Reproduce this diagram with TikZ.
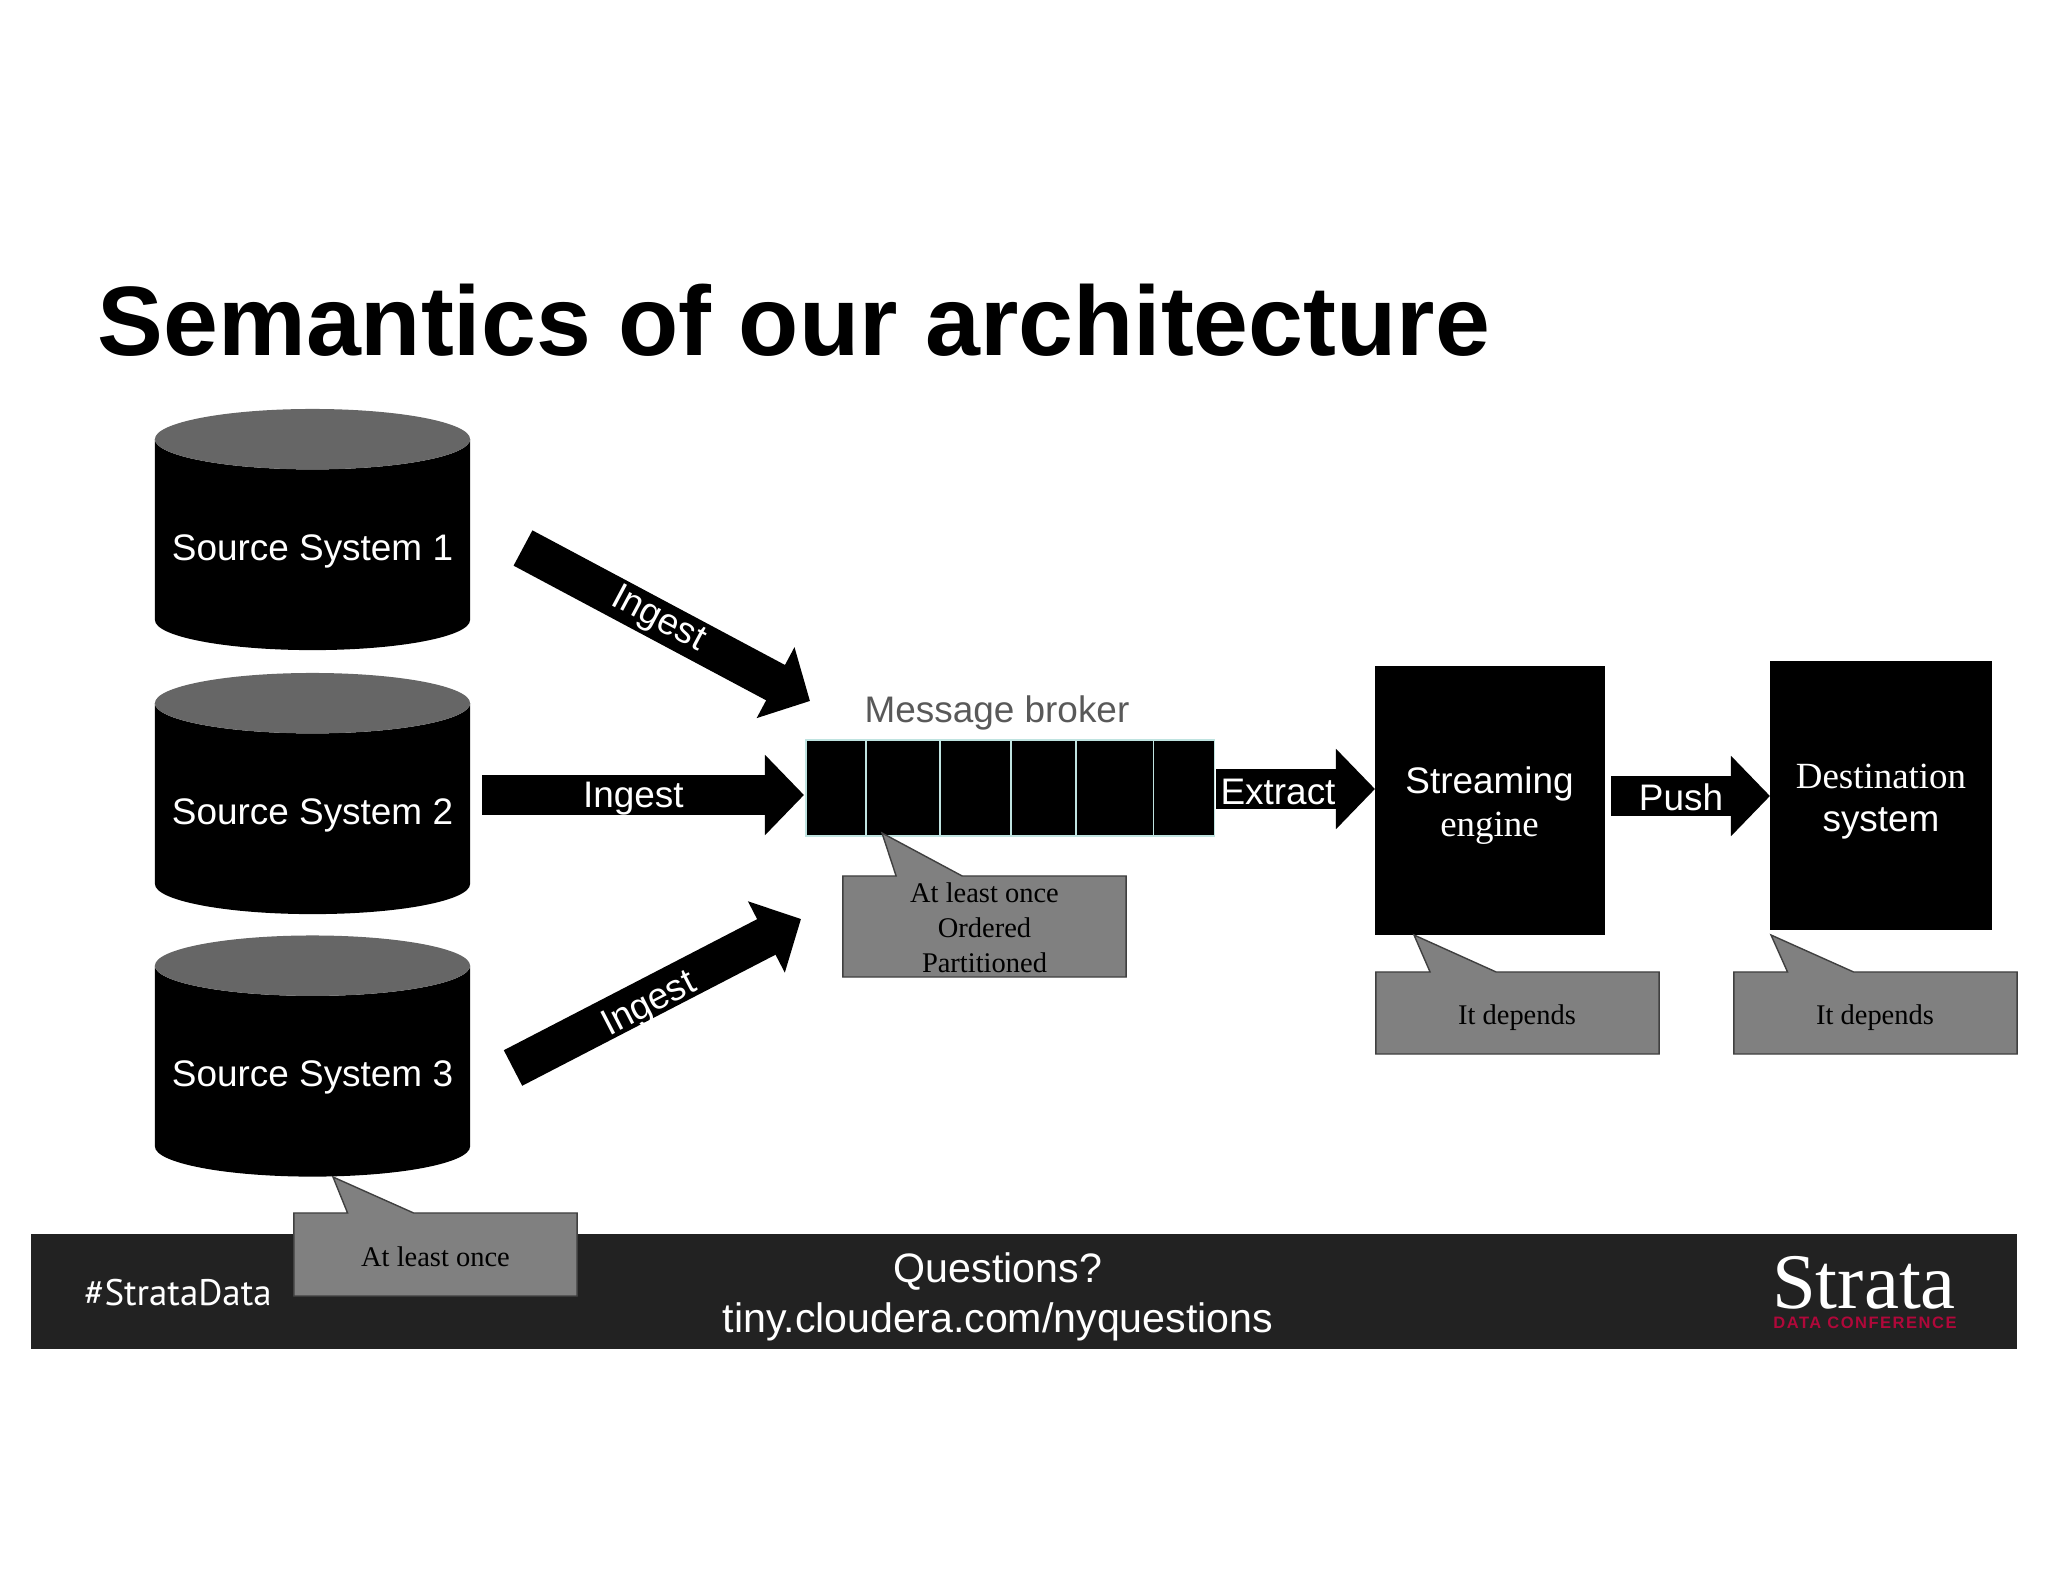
\documentclass[tikz,border=0pt]{standalone}
\usepackage{fontspec}
\setmainfont{Liberation Serif}
\setsansfont{Liberation Sans}
\newfontfamily\hashfont{PT Sans}
\newfontfamily\logofont{Liberation Sans}[LetterSpace=9]
\usetikzlibrary{positioning, arrows.meta, shapes.geometric, shapes.callouts}
\definecolor{footergray}{HTML}{222222}
\definecolor{capgray}{HTML}{666666}
\definecolor{notegray}{HTML}{808080}
\definecolor{cellline}{HTML}{BFE3E0}
\definecolor{logored}{HTML}{B0083A}
\tikzset{
    label text/.style={font=\fontsize{10.5pt}{12.6pt}\sffamily, text=white, inner sep=0pt},
    source/.style={cylinder, shape border rotate=90, aspect=.215, cylinder uses custom fill, cylinder body fill=black, cylinder end fill=capgray, minimum height=2.41cm, minimum width=3.15cm, inner sep=0pt, outer sep=0pt, label text},
    blockarrow/.style={line width=.40cm, -{Triangle[length=.39cm, width=.78cm]}},
    cell/.style={draw=cellline, fill=black, line width=.4pt, minimum height=.96cm, inner sep=0pt, outer sep=0pt},
    engine/.style={fill=black, inner sep=0pt, outer sep=0pt, align=center, text=white},
    note/.style={rectangle callout, draw=black!75, fill=notegray, line width=.4pt, minimum width=2.83cm, inner sep=0pt, outer sep=0pt, callout pointer width=.66cm},
    note text/.style={inner sep=0pt, align=center, font=\fontsize{8.1pt}{10pt}\selectfont},
}
\begin{document}
\begin{tikzpicture}[x=.01cm, y=-.01cm]
    \useasboundingbox (0, 0) rectangle (2048, 1582);
    \node (title) [anchor=base west, inner sep=0pt, font=\fontsize{28.05pt}{34pt}\sffamily\bfseries] at (97, 355.5) {Semantics of our architecture};

    % footer
    \fill [footergray] (31, 1234) rectangle (2017, 1349);
    \node (hashtag) [text=white, inner sep=0pt, font=\fontsize{10.5pt}{12pt}\hashfont] at (178, 1293) {\#StrataData};
    \node (questions) [text=white, align=center, inner sep=0pt, font=\fontsize{11.7pt}{14.2pt}\sffamily] at (998, 1297) {Questions?\\tiny.cloudera.com/nyquestions};
    \node (strata) [text=white, inner sep=0pt, font=\fontsize{22.4pt}{24pt}\selectfont] at (1864, 1283) {Strata};
    \node (conference) [text=logored, inner sep=0pt, font=\fontsize{4.7pt}{5pt}\logofont\bfseries] at (1865, 1323) {DATA CONFERENCE};

    \node (source1) [source] at (312.5, 545) {\raisebox{-.15cm}[0pt][0pt]{Source System 1}};
    \node (source2) [source] at (312.5, 809) {\raisebox{-.15cm}[0pt][0pt]{Source System 2}};
    \node (source3) [source] at (312.5, 1071.5) {\raisebox{-.15cm}[0pt][0pt]{Source System 3}};

    % broker
    \node (cell1) [cell, minimum width=.60cm, anchor=north west] at (806, 740) {};
    \node (cell2) [cell, minimum width=.74cm, right=0pt of cell1] {};
    \node (cell3) [cell, minimum width=.71cm, right=0pt of cell2] {};
    \node (cell4) [cell, minimum width=.65cm, right=0pt of cell3] {};
    \node (cell5) [cell, minimum width=.77cm, right=0pt of cell4] {};
    \node (cell6) [cell, minimum width=.61cm, right=0pt of cell5] {};
    \node (broker) [inner sep=0pt, text=black!65, font=\fontsize{10.5pt}{12.6pt}\sffamily] at (997, 713) {Message broker};

    \node (stream) [engine, minimum width=2.29cm, minimum height=2.69cm] at (1490, 800.5) {};
    \node (streamtext) [engine, fill=none, font=\fontsize{10.5pt}{12.2pt}\selectfont] at (1489.5, 806) {{\sffamily Streaming}\\engine};
    \node (dest) [engine, minimum width=2.22cm, minimum height=2.69cm] at (1881, 795.5) {};
    \node (desttext) [engine, fill=none, font=\fontsize{10.5pt}{12.2pt}\selectfont] at (1881, 802) {Destination\\{\sffamily system}};

    % block arrows
    \coordinate (in1a) at (523, 548);
    \coordinate (in1b) at (810, 701);
    \coordinate (in2a) at (482, 795);
    \coordinate (in2b) at (804, 795);
    \coordinate (in3a) at (513, 1068);
    \coordinate (in3b) at (801, 919);
    \coordinate (exa) at (1216, 789);
    \coordinate (exb) at (1375, 789);
    \coordinate (pua) at (1611, 796);
    \coordinate (pub) at (1770, 796);

    \draw [blockarrow] (in1a) -- node [label text, sloped, pos=.47] {Ingest} (in1b);
    \draw [blockarrow] (in2a) -- node [label text, pos=.47, yshift=-.04cm] {Ingest} (in2b);
    \draw [blockarrow] (in3a) -- node [label text, sloped, pos=.46, xshift=.01cm, yshift=-.07cm] {Ingest} (in3b);
    \draw [blockarrow] (exa) -- node [label text, pos=.39, yshift=-.03cm] {Extract} (exb);
    \draw [blockarrow] (pua) -- node [label text, pos=.44, yshift=-.01cm] {Push} (pub);

    % notes
    \node (note1) [note, minimum height=1.01cm, callout absolute pointer={(882, 833)}] at (984.5, 926.5) {};
    \node (note1text) [note text] at (984.5, 928) {At least once\\Ordered\\Partitioned};
    \node (note2) [note, minimum height=.82cm, callout absolute pointer={(1414, 935)}] at (1517.5, 1013) {};
    \node (note2text) [note text] at (1517, 1018) {It depends};
    \node (note3) [note, minimum height=.82cm, callout absolute pointer={(1771, 935)}] at (1875.5, 1013) {};
    \node (note3text) [note text] at (1875, 1018) {It depends};
    \node (note4) [note, minimum height=.83cm, callout absolute pointer={(333, 1177)}] at (435.5, 1254.5) {};
    \node (note4text) [note text] at (435.5, 1257) {At least once};
\end{tikzpicture}
\end{document}
